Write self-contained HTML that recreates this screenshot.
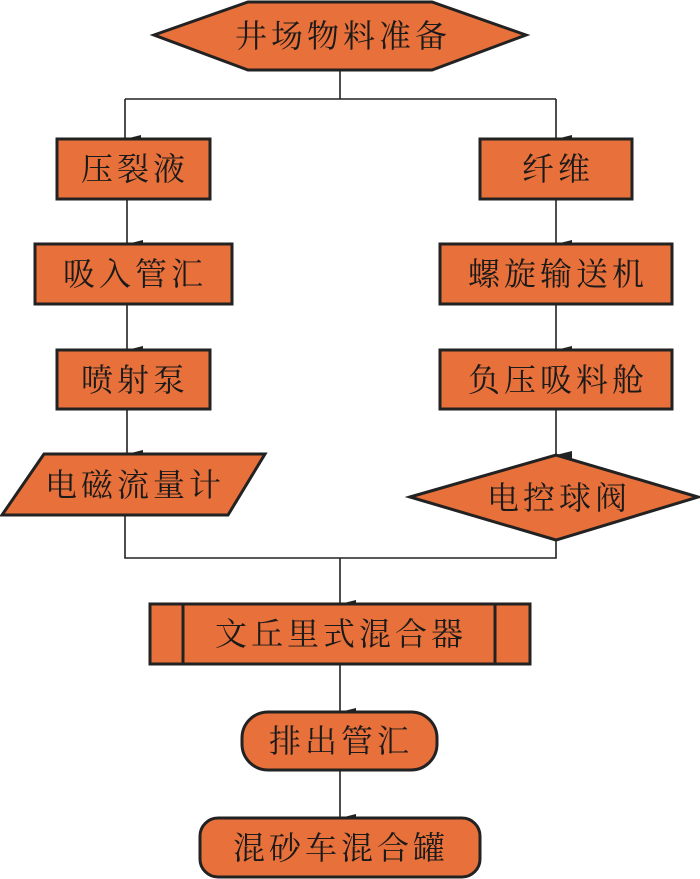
<!DOCTYPE html>
<html><head><meta charset="utf-8"><style>
html,body{margin:0;padding:0;background:#fff;}
svg{display:block;}
text{font-family:"Liberation Serif","Noto Serif CJK SC",serif;font-size:32px;fill:#1a1a1a;text-anchor:middle;dominant-baseline:central;letter-spacing:4px;}
</style></head><body>
<svg width="700" height="879" viewBox="0 0 700 879" xmlns="http://www.w3.org/2000/svg">
<defs>
<marker id="a" markerWidth="8" markerHeight="16" refX="4" refY="16" orient="auto-start-reverse" markerUnits="userSpaceOnUse" viewBox="0 0 8 16">
<path d="M0,0 L8,0 L4,16 Z" fill="#222"/>
</marker>
</defs>
<g fill="none" stroke="#222" stroke-width="1.6">
<path d="M340,71 V99 M125,99 H556"/>
<path d="M125,99 V139" marker-end="url(#a)"/>
<path d="M556,99 V139" marker-end="url(#a)"/>
<path d="M127,199 V244" marker-end="url(#a)"/>
<path d="M556,199 V244" marker-end="url(#a)"/>
<path d="M127,304 V350" marker-end="url(#a)"/>
<path d="M556,304 V350" marker-end="url(#a)"/>
<path d="M127,409 V454" marker-end="url(#a)"/>
<path d="M556,409 V455" marker-end="url(#a)"/>
<path d="M125,515 V558 H556 V540"/>
<path d="M340,558 V604" marker-end="url(#a)"/>
<path d="M340,664 V712" marker-end="url(#a)"/>
<path d="M340,770 V818" marker-end="url(#a)"/>
</g>
<g fill="#E8703A" stroke="#222" stroke-width="3">
<polygon points="154,35 248,2 432,2 526,35 432,70 248,70"/>
<rect x="57" y="139" width="153" height="60"/>
<rect x="480" y="139" width="152" height="60"/>
<rect x="35" y="244" width="197" height="60"/>
<rect x="440" y="244" width="232" height="60"/>
<rect x="57" y="350" width="153" height="59"/>
<rect x="440" y="350" width="232" height="59"/>
<polygon points="44,454 265,454 228,515 2,515"/>
<polygon points="410,497 556,455 698,497 556,540"/>
<rect x="150" y="604" width="380" height="60"/>
<line x1="183" y1="604" x2="183" y2="664"/>
<line x1="495" y1="604" x2="495" y2="664"/>
<rect x="242" y="712" width="195" height="58" rx="26"/>
<rect x="200" y="818" width="280" height="59" rx="18"/>
</g>
<text x="343" y="36">井场物料准备</text>
<text x="135" y="169">压裂液</text>
<text x="558" y="169">纤维</text>
<text x="135" y="274">吸入管汇</text>
<text x="558" y="274">螺旋输送机</text>
<text x="135" y="380">喷射泵</text>
<text x="558" y="380">负压吸料舱</text>
<text x="135" y="485">电磁流量计</text>
<text x="559" y="498">电控球阀</text>
<text x="341" y="634">文丘里式混合器</text>
<text x="341" y="741">排出管汇</text>
<text x="341" y="848">混砂车混合罐</text>
</svg>
</body></html>
